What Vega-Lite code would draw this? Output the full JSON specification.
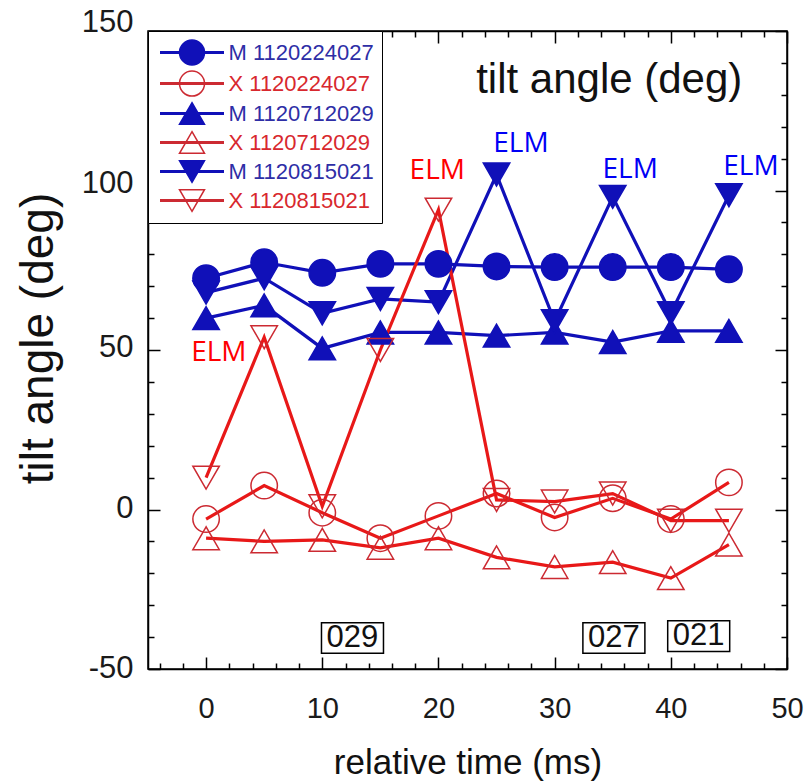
{
  "$schema": "https://vega.github.io/schema/vega-lite/v6.json",
  "width": 639,
  "height": 638,
  "autosize": {"type": "none"},
  "padding": {"left": 148, "top": 31, "right": 21, "bottom": 112},
  "background": "white",
  "config": {"view": {"stroke": "black", "strokeWidth": 1.5}},
  "datasets": {
    "series": [
      {"s": "M 1120224027", "t": 0, "v": 72.5}, {"s": "M 1120224027", "t": 5, "v": 77.5}, {"s": "M 1120224027", "t": 10, "v": 74.2}, {"s": "M 1120224027", "t": 15, "v": 77}, {"s": "M 1120224027", "t": 20, "v": 77}, {"s": "M 1120224027", "t": 25, "v": 76.2}, {"s": "M 1120224027", "t": 30, "v": 76}, {"s": "M 1120224027", "t": 35, "v": 76}, {"s": "M 1120224027", "t": 40, "v": 76}, {"s": "M 1120224027", "t": 45, "v": 75.3},
      {"s": "X 1120224027", "t": 0, "v": -3}, {"s": "X 1120224027", "t": 5, "v": 7.5}, {"s": "X 1120224027", "t": 10, "v": -1}, {"s": "X 1120224027", "t": 15, "v": -9}, {"s": "X 1120224027", "t": 20, "v": -2}, {"s": "X 1120224027", "t": 25, "v": 5}, {"s": "X 1120224027", "t": 30, "v": -2.5}, {"s": "X 1120224027", "t": 35, "v": 3.5}, {"s": "X 1120224027", "t": 40, "v": -3}, {"s": "X 1120224027", "t": 45, "v": 8.5},
      {"s": "M 1120712029", "t": 0, "v": 60}, {"s": "M 1120712029", "t": 5, "v": 64}, {"s": "M 1120712029", "t": 10, "v": 50.5}, {"s": "M 1120712029", "t": 15, "v": 55.5}, {"s": "M 1120712029", "t": 20, "v": 55.5}, {"s": "M 1120712029", "t": 25, "v": 54.5}, {"s": "M 1120712029", "t": 30, "v": 55.5}, {"s": "M 1120712029", "t": 35, "v": 52.5}, {"s": "M 1120712029", "t": 40, "v": 56}, {"s": "M 1120712029", "t": 45, "v": 56},
      {"s": "X 1120712029", "t": 0, "v": -9}, {"s": "X 1120712029", "t": 5, "v": -10}, {"s": "X 1120712029", "t": 10, "v": -9.5}, {"s": "X 1120712029", "t": 15, "v": -12}, {"s": "X 1120712029", "t": 20, "v": -9}, {"s": "X 1120712029", "t": 25, "v": -15}, {"s": "X 1120712029", "t": 30, "v": -18}, {"s": "X 1120712029", "t": 35, "v": -16.5}, {"s": "X 1120712029", "t": 40, "v": -21.5}, {"s": "X 1120712029", "t": 45, "v": -11},
      {"s": "M 1120815021", "t": 0, "v": 68}, {"s": "M 1120815021", "t": 5, "v": 72.5}, {"s": "M 1120815021", "t": 10, "v": 61.5}, {"s": "M 1120815021", "t": 15, "v": 66}, {"s": "M 1120815021", "t": 20, "v": 65}, {"s": "M 1120815021", "t": 25, "v": 105}, {"s": "M 1120815021", "t": 30, "v": 59}, {"s": "M 1120815021", "t": 35, "v": 98}, {"s": "M 1120815021", "t": 40, "v": 61.5}, {"s": "M 1120815021", "t": 45, "v": 98.5},
      {"s": "X 1120815021", "t": 0, "v": 10}, {"s": "X 1120815021", "t": 5, "v": 54}, {"s": "X 1120815021", "t": 10, "v": 1}, {"s": "X 1120815021", "t": 15, "v": 50}, {"s": "X 1120815021", "t": 20, "v": 94}, {"s": "X 1120815021", "t": 25, "v": 3}, {"s": "X 1120815021", "t": 30, "v": 2.5}, {"s": "X 1120815021", "t": 35, "v": 5}, {"s": "X 1120815021", "t": 40, "v": -3.5}, {"s": "X 1120815021", "t": 45, "v": -3.5}
    ],
    "elm": [
      {"comp": "X", "t": 1.1, "v": 46.6, "label": "ELM"},
      {"comp": "X", "t": 19.9, "v": 103.6, "label": "ELM"},
      {"comp": "M", "t": 27.1, "v": 112.1, "label": "ELM"},
      {"comp": "M", "t": 36.5, "v": 104, "label": "ELM"},
      {"comp": "M", "t": 46.9, "v": 105, "label": "ELM"}
    ],
    "heading": [{"t": 34.7, "v": 130.7, "label": "tilt angle (deg)"}],
    "shots": [
      {"t": 12.6, "v": -40.3, "label": "029"},
      {"t": 35.1, "v": -40.3, "label": "027"},
      {"t": 42.4, "v": -39.7, "label": "021"}
    ]
  },
  "layer": [
    {
      "data": {"name": "series"},
      "mark": {"type": "line", "strokeWidth": 3.2},
      "encoding": {
        "x": {
          "field": "t", "type": "quantitative",
          "scale": {"domain": [-5, 50], "nice": false, "zero": false},
          "axis": {
            "orient": "bottom",
            "values": [-4,-2,0,2,4,6,8,10,12,14,16,18,20,22,24,26,28,30,32,34,36,38,40,42,44,46,48,50],
            "labelExpr": "datum.value % 10 === 0 ? '' + datum.value : ''",
            "tickSize": {"condition": {"test": "datum.value % 10 === 0", "value": -12}, "value": -6},
            "tickColor": "black", "tickWidth": 1.5,
            "domainColor": "black", "domainWidth": 1.5,
            "grid": false,
            "labelFont": "Liberation Sans", "labelFontSize": 29, "labelColor": "#1a1a1a",
            "labelPadding": 37, "labelOverlap": false, "labelFlush": false,
            "title": "relative time (ms)", "titleFont": "Liberation Sans", "titleFontSize": 35,
            "titleFontWeight": "normal", "titleColor": "#111111", "titlePadding": 16
          }
        },
        "y": {
          "field": "v", "type": "quantitative",
          "scale": {"domain": [-50, 150], "nice": false, "zero": false},
          "axis": {
            "orient": "left",
            "values": [-50,-40,-30,-20,-10,0,10,20,30,40,50,60,70,80,90,100,110,120,130,140,150],
            "labelExpr": "datum.value % 50 === 0 ? '' + datum.value : ''",
            "tickSize": {"condition": {"test": "datum.value % 50 === 0", "value": -12}, "value": -6},
            "labelOffset": {"condition": [{"test": "datum.value === 150", "value": -9}, {"test": "datum.value === 100", "value": -7}, {"test": "datum.value === 50", "value": -3}], "value": -1},
            "tickColor": "black", "tickWidth": 1.5,
            "domainColor": "black", "domainWidth": 1.5,
            "grid": false,
            "labelFont": "Liberation Sans", "labelFontSize": 31, "labelColor": "#1a1a1a",
            "labelPadding": 27, "labelOverlap": false, "labelFlush": false,
            "title": "tilt angle (deg)", "titleFont": "Liberation Sans", "titleFontSize": 46,
            "titleFontWeight": "normal", "titleColor": "#111111", "titlePadding": 19, "titleY": 307
          }
        },
        "color": {
          "field": "s", "type": "nominal",
          "scale": {
            "domain": ["M 1120224027", "M 1120712029", "M 1120815021", "X 1120224027", "X 1120712029", "X 1120815021"],
            "range": ["#1010b8", "#1010b8", "#1010b8", "#e81818", "#e81818", "#e81818"]
          },
          "legend": null
        }
      }
    },
    {
      "data": {"name": "series"},
      "mark": {"type": "point", "filled": true, "size": 700, "strokeWidth": 1.5, "opacity": 1},
      "encoding": {
        "x": {
          "field": "t", "type": "quantitative",
          "scale": {"domain": [-5, 50], "nice": false, "zero": false},
          "axis": {
            "orient": "top",
            "values": [-4,-2,0,2,4,6,8,10,12,14,16,18,20,22,24,26,28,30,32,34,36,38,40,42,44,46,48,50],
            "labels": false,
            "tickSize": {"condition": {"test": "datum.value % 10 === 0", "value": -12}, "value": -6},
            "tickColor": "black", "tickWidth": 1.5,
            "domainColor": "black", "domainWidth": 1.5,
            "grid": false, "title": null
          }
        },
        "y": {
          "field": "v", "type": "quantitative",
          "scale": {"domain": [-50, 150], "nice": false, "zero": false},
          "axis": {
            "orient": "right",
            "values": [-50,-40,-30,-20,-10,0,10,20,30,40,50,60,70,80,90,100,110,120,130,140,150],
            "labels": false,
            "tickSize": {"condition": {"test": "datum.value % 50 === 0", "value": -12}, "value": -6},
            "tickColor": "black", "tickWidth": 1.5,
            "domainColor": "black", "domainWidth": 1.5,
            "grid": false, "title": null
          }
        },
        "shape": {
          "field": "s", "type": "nominal",
          "scale": {
            "domain": ["M 1120224027", "M 1120712029", "M 1120815021", "X 1120224027", "X 1120712029", "X 1120815021"],
            "range": ["circle", "triangle-up", "triangle-down", "circle", "triangle-up", "triangle-down"]
          },
          "legend": null
        },
        "fill": {
          "field": "s", "type": "nominal",
          "scale": {
            "domain": ["M 1120224027", "X 1120224027", "M 1120712029", "X 1120712029", "M 1120815021", "X 1120815021"],
            "range": ["#1010b8", "transparent", "#1010b8", "transparent", "#1010b8", "transparent"]
          },
          "legend": {
            "title": null, "orient": "top-left", "offset": 0, "padding": 8,
            "fillColor": "white", "strokeColor": "black",
            "symbolSize": 625, "symbolStrokeWidth": 1.5, "symbolOffset": 22.5,
            "labelOffset": 23, "labelFont": "Liberation Sans", "labelFontSize": 22, "labelLimit": 0,
            "rowPadding": 0.01,
            "encoding": {
              "symbols": {
                "size": {"value": 625},
                "shape": {
                  "condition": [
                    {"test": "indexof(datum.value,'0224') > 0", "value": "M-2.5,-0.06H2.5V0.06H-2.5ZM1,0A1,1,0,1,1,-1,0A1,1,0,1,1,1,0Z"},
                    {"test": "indexof(datum.value,'0712') > 0", "value": "M-2.5,-0.06H2.5V0.06H-2.5ZM0,-0.866L1,0.866L-1,0.866Z"}
                  ],
                  "value": "M-2.5,-0.06H2.5V0.06H-2.5ZM0,0.866L1,-0.866L-1,-0.866Z"
                }
              },
              "labels": {
                "fill": {"condition": {"test": "indexof(datum.label,'M') === 0", "value": "#2e2ea6"}, "value": "#d8282e"}
              }
            }
          }
        },
        "stroke": {
          "field": "s", "type": "nominal",
          "scale": {
            "domain": ["M 1120224027", "X 1120224027", "M 1120712029", "X 1120712029", "M 1120815021", "X 1120815021"],
            "range": ["#1010b8", "#cc2a32", "#1010b8", "#cc2a32", "#1010b8", "#cc2a32"]
          },
          "legend": {
            "title": null, "orient": "top-left", "offset": 0, "padding": 8,
            "fillColor": "white", "strokeColor": "black",
            "symbolSize": 625, "symbolStrokeWidth": 1.5, "symbolOffset": 22.5,
            "labelOffset": 23, "labelFont": "Liberation Sans", "labelFontSize": 22, "labelLimit": 0,
            "rowPadding": 0.01,
            "encoding": {
              "symbols": {
                "size": {"value": 625},
                "shape": {
                  "condition": [
                    {"test": "indexof(datum.value,'0224') > 0", "value": "M-2.5,-0.06H2.5V0.06H-2.5ZM1,0A1,1,0,1,1,-1,0A1,1,0,1,1,1,0Z"},
                    {"test": "indexof(datum.value,'0712') > 0", "value": "M-2.5,-0.06H2.5V0.06H-2.5ZM0,-0.866L1,0.866L-1,0.866Z"}
                  ],
                  "value": "M-2.5,-0.06H2.5V0.06H-2.5ZM0,0.866L1,-0.866L-1,-0.866Z"
                }
              },
              "labels": {
                "fill": {"condition": {"test": "indexof(datum.label,'M') === 0", "value": "#2e2ea6"}, "value": "#d8282e"}
              }
            }
          }
        }
      }
    },
    {
      "data": {"name": "elm"},
      "transform": [{"filter": "datum.comp === 'X'"}],
      "mark": {"type": "text", "font": "Open Sans", "fontSize": 28, "color": "#ff0000", "align": "center", "baseline": "alphabetic"},
      "encoding": {
        "x": {"field": "t", "type": "quantitative", "scale": {"domain": [-5, 50], "nice": false, "zero": false}, "axis": null},
        "y": {"field": "v", "type": "quantitative", "scale": {"domain": [-50, 150], "nice": false, "zero": false}, "axis": null},
        "text": {"field": "label"}
      }
    },
    {
      "data": {"name": "elm"},
      "transform": [{"filter": "datum.comp === 'M'"}],
      "mark": {"type": "text", "font": "Open Sans", "fontSize": 28, "color": "#0000f5", "align": "center", "baseline": "alphabetic"},
      "encoding": {
        "x": {"field": "t", "type": "quantitative", "scale": {"domain": [-5, 50], "nice": false, "zero": false}, "axis": null},
        "y": {"field": "v", "type": "quantitative", "scale": {"domain": [-50, 150], "nice": false, "zero": false}, "axis": null},
        "text": {"field": "label"}
      }
    },
    {
      "data": {"name": "heading"},
      "mark": {"type": "text", "font": "Liberation Sans", "fontSize": 42, "color": "#111111", "align": "center", "baseline": "alphabetic"},
      "encoding": {
        "x": {"field": "t", "type": "quantitative", "scale": {"domain": [-5, 50], "nice": false, "zero": false}, "axis": null},
        "y": {"field": "v", "type": "quantitative", "scale": {"domain": [-50, 150], "nice": false, "zero": false}, "axis": null},
        "text": {"field": "label"}
      }
    },
    {
      "data": {"name": "shots"},
      "mark": {"type": "point", "shape": "M-1,-0.4935H1V0.4935H-1Z", "size": 3844, "filled": false, "stroke": "black", "strokeWidth": 1.5, "opacity": 1},
      "encoding": {
        "x": {"field": "t", "type": "quantitative", "scale": {"domain": [-5, 50], "nice": false, "zero": false}, "axis": null},
        "y": {"field": "v", "type": "quantitative", "scale": {"domain": [-50, 150], "nice": false, "zero": false}, "axis": null}
      }
    },
    {
      "data": {"name": "shots"},
      "mark": {"type": "text", "font": "Liberation Sans", "fontSize": 31, "color": "#111111", "align": "center", "baseline": "middle"},
      "encoding": {
        "x": {"field": "t", "type": "quantitative", "scale": {"domain": [-5, 50], "nice": false, "zero": false}, "axis": null},
        "y": {"field": "v", "type": "quantitative", "scale": {"domain": [-50, 150], "nice": false, "zero": false}, "axis": null},
        "text": {"field": "label"}
      }
    }
  ],
  "resolve": {"axis": {"x": "independent", "y": "independent"}}
}
